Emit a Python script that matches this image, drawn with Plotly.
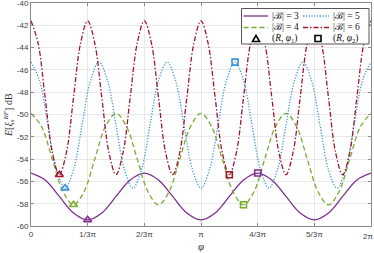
import math
import plotly.graph_objects as go

PI = math.pi

# ---- data (phi in units of pi) ----
PHI_B3 = [k / 12 for k in range(25)]
PHI_B4 = [k / 16 for k in range(33)]
PHI_B5 = [k / 20 for k in range(41)]
PHI_B6 = [k / 24 for k in range(49)]

E_B3 = [-55.25, -55.87, -57.35, -58.83, -59.45, -58.83, -57.35, -55.87,
        -55.25, -55.87, -57.35, -58.83, -59.45, -58.83, -57.35, -55.87,
        -55.25, -55.87, -57.35, -58.83, -59.45, -58.83, -57.35, -55.87,
        -55.25]
E_B4 = [-49.9, -51.1, -54.0, -56.9, -58.1, -56.9, -54.0, -51.1,
        -49.9, -51.1, -54.0, -56.9, -58.1, -56.9, -54.0, -51.1,
        -49.9, -51.1, -54.0, -56.9, -58.1, -56.9, -54.0, -51.1,
        -49.9, -51.1, -54.0, -56.9, -58.1, -56.9, -54.0, -51.1,
        -49.9]
E_B5 = [-45.3, -46.95, -50.95, -54.95, -56.6, -54.95, -50.95, -46.95,
        -45.3, -46.95, -50.95, -54.95, -56.6, -54.95, -50.95, -46.95,
        -45.3, -46.95, -50.95, -54.95, -56.6, -54.95, -50.95, -46.95,
        -45.3, -46.95, -50.95, -54.95, -56.6, -54.95, -50.95, -46.95,
        -45.3, -46.95, -50.95, -54.95, -56.6, -54.95, -50.95, -46.95,
        -45.3]
E_B6 = [-41.6, -43.6, -48.5, -53.4, -55.4, -53.4, -48.5, -43.6,
        -41.6, -43.6, -48.5, -53.4, -55.4, -53.4, -48.5, -43.6,
        -41.6, -43.6, -48.5, -53.4, -55.4, -53.4, -48.5, -43.6,
        -41.6, -43.6, -48.5, -53.4, -55.4, -53.4, -48.5, -43.6,
        -41.6, -43.6, -48.5, -53.4, -55.4, -53.4, -48.5, -43.6,
        -41.6, -43.6, -48.5, -53.4, -55.4, -53.4, -48.5, -43.6,
        -41.6]

# marker points (phi in units of pi): order |B| = 3, 4, 5, 6
PHI1 = [1 / 3, 1 / 4, 1 / 5, 1 / 6]
E_PHI1 = [-59.45, -58.1, -56.6, -55.4]
PHI2 = [4 / 3, 5 / 4, 6 / 5, 7 / 6]
E_PHI2 = [-55.25, -58.1, -45.3, -55.4]

X_TICKS = [0, 1 / 3, 2 / 3, 1, 4 / 3, 5 / 3, 2]
X_TICKTEXT = ["0", "1/3π", "2/3π", "π", "4/3π", "5/3π", "2π"]
Y_TICKS = [-60, -58, -56, -54, -52, -50, -48, -46, -44, -42, -40]
Y_TICKTEXT = ["-60", "-58", "-56", "-54", "-52", "-50", "-48", "-46", "-44", "-42", "-40"]

LABELS = ["|ℬ| = 3", "|ℬ| = 4", "|ℬ| = 5", "|ℬ| = 6"]
COLORS = ["#7E2F8E", "#77AC30", "#3A93DD", "#A2142F"]
DASHES = ["solid", "5px,3px", "1.2px,1.6px", "5px,2px,1.5px,2px"]

series = [(PHI_B3, E_B3), (PHI_B4, E_B4), (PHI_B5, E_B5), (PHI_B6, E_B6)]

fig = go.Figure()
for (phi, e), c, d, lab in zip(series, COLORS, DASHES, LABELS):
    fig.add_trace(go.Scatter(
        x=[p * PI for p in phi], y=e, mode="lines", name=lab,
        line=dict(color=c, width=1.3, dash=d, shape="spline"),
        showlegend=False, hoverinfo="skip"))

fig.add_trace(go.Scatter(
    x=[p * PI for p in PHI1], y=E_PHI1, mode="markers", showlegend=False,
    marker=dict(symbol="triangle-up-open", size=7, color=COLORS,
                line=dict(width=1.6, color=COLORS))))
fig.add_trace(go.Scatter(
    x=[p * PI for p in PHI2], y=E_PHI2, mode="markers", showlegend=False,
    marker=dict(symbol="square-open", size=6, color=COLORS,
                line=dict(width=1.6, color=COLORS))))

W, H = 374, 253
L, R, T, B = 31, 3, 3, 27
PW, PH = W - L - R, H - T - B


def fx(px):
    return (px - L) / PW


def fy(py):
    return 1 - (py - T) / PH


TICK_FONT = dict(family="Liberation Sans", size=8, color="#404040")
axis_common = dict(showline=True, linecolor="#8a8a8a", linewidth=1, mirror="ticks",
                   ticks="inside", ticklen=3, tickcolor="#8a8a8a",
                   showgrid=True, gridcolor="#e8e8e8", gridwidth=1, zeroline=False,
                   automargin=False, ticklabeloverflow="allow", tickfont=TICK_FONT)

# last x tick label would overflow the page edge: draw it as a right-anchored annotation
x_ticktext_axis = X_TICKTEXT[:-1] + [""]

fig.update_layout(
    width=W, height=H,
    margin=dict(l=L, r=R, t=T, b=B, autoexpand=False),
    paper_bgcolor="white", plot_bgcolor="white",
    xaxis=dict(range=[0, 2 * PI], tickvals=[t * PI for t in X_TICKS], ticktext=x_ticktext_axis,
               **axis_common),
    yaxis=dict(range=[-60, -40], tickvals=Y_TICKS, ticktext=Y_TICKTEXT,
               **axis_common),
)

# ---- axis titles ----
annotations = [
    dict(xref="paper", yref="paper", x=fx(201), y=fy(246), xanchor="center", yanchor="middle",
         showarrow=False, text="<i>φ</i>",
         font=dict(family="Liberation Serif", size=11, color="#333")),
    dict(xref="paper", yref="paper", x=fx(9), y=fy(115), xanchor="center", yanchor="middle",
         showarrow=False, textangle=-90,
         text="<i>E</i>[<i>ξ</i><sub><i>s</i></sub><sup><i>RF</i></sup>] dB",
         font=dict(family="Liberation Serif", size=10, color="#333")),
    dict(xref="x", yref="paper", x=X_TICKS[-1] * PI, y=0, yshift=-4,
         xanchor="right", yanchor="top", xshift=4, showarrow=False,
         text=X_TICKTEXT[-1], font=TICK_FONT),
]

# ---- legend (manual, two columns) ----
shapes = []
shapes.append(dict(type="rect", xref="paper", yref="paper", layer="above",
                   x0=fx(241.5), x1=fx(369), y0=fy(44), y1=fy(8.5),
                   fillcolor="white", line=dict(color="#555", width=1)))
rows = [16, 27.5]
cols = [(243.5, 268, 270), (303, 329, 331)]
grid = [(0, 0, 0), (1, 0, 1), (2, 1, 0), (3, 1, 1)]
for idx, ci, ri in grid:
    x0, x1, xt = cols[ci]
    y = rows[ri]
    shapes.append(dict(type="line", xref="paper", yref="paper", layer="above",
                       x0=fx(x0), x1=fx(x1), y0=fy(y), y1=fy(y),
                       line=dict(color=COLORS[idx], width=1.3, dash=DASHES[idx])))
    annotations.append(dict(xref="paper", yref="paper", x=fx(xt), y=fy(y),
                            xanchor="left", yanchor="middle", showarrow=False,
                            text=LABELS[idx],
                            font=dict(family="Liberation Serif", size=9.5, color="#111")))
ty = 38.5
shapes.append(dict(type="path", xref="paper", yref="paper", layer="above",
                   path=f"M{fx(252.5)},{fy(ty + 3)} L{fx(259.5)},{fy(ty + 3)} L{fx(256)},{fy(ty - 3.2)} Z",
                   line=dict(color="black", width=1.6), fillcolor="rgba(0,0,0,0)"))
shapes.append(dict(type="rect", xref="paper", yref="paper", layer="above",
                   x0=fx(315), x1=fx(321), y0=fy(ty + 3), y1=fy(ty - 3),
                   line=dict(color="black", width=1.6), fillcolor="rgba(0,0,0,0)"))
annotations.append(dict(xref="paper", yref="paper", x=fx(270), y=fy(ty),
                        xanchor="left", yanchor="middle", showarrow=False,
                        text="(<i>R</i>, <i>φ</i><sub>1</sub>)",
                        font=dict(family="Liberation Serif", size=9.5, color="#111")))
annotations.append(dict(xref="paper", yref="paper", x=fx(331), y=fy(ty),
                        xanchor="left", yanchor="middle", showarrow=False,
                        text="(<i>R</i>, <i>φ</i><sub>2</sub>)",
                        font=dict(family="Liberation Serif", size=9.5, color="#111")))

fig.update_layout(shapes=shapes, annotations=annotations)

fig.write_html("out.html", config={"displayModeBar": False},
               post_script="document.body.style.margin='0';document.body.style.overflow='hidden';")
